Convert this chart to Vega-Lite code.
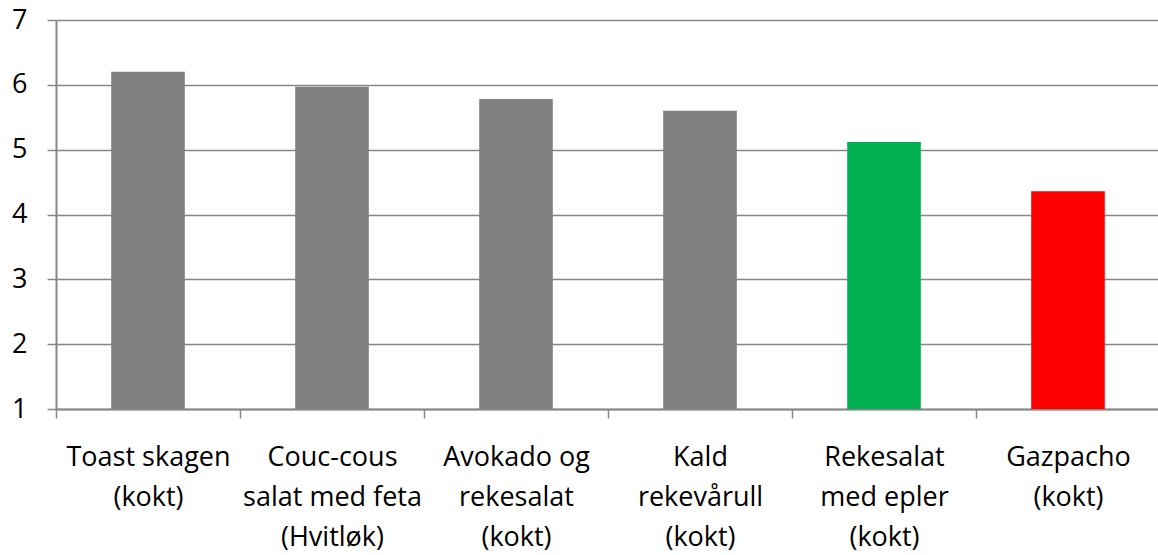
{
  "$schema": "https://vega.github.io/schema/vega-lite/v6.json",
  "autosize": "none",
  "width": 1104,
  "height": 389,
  "padding": {"left": 56, "top": 20, "right": 0, "bottom": 146},
  "background": "white",
  "config": {
    "view": {"stroke": null},
    "font": "Open Sans"
  },
  "data": {
    "values": [
      {"rett": "Toast skagen|(kokt)", "score": 6.2, "farge": "#808080"},
      {"rett": "Couc-cous|salat med feta|(Hvitløk)", "score": 5.97, "farge": "#808080"},
      {"rett": "Avokado og|rekesalat|(kokt)", "score": 5.78, "farge": "#808080"},
      {"rett": "Kald|rekevårull|(kokt)", "score": 5.6, "farge": "#808080"},
      {"rett": "Rekesalat|med epler|(kokt)", "score": 5.12, "farge": "#00B050"},
      {"rett": "Gazpacho|(kokt)", "score": 4.36, "farge": "#FF0000"}
    ]
  },
  "mark": {"type": "bar"},
  "encoding": {
    "x": {
      "field": "rett",
      "type": "nominal",
      "sort": null,
      "scale": {"paddingInner": 0.6, "paddingOuter": 0.3},
      "axis": {
        "title": null,
        "labelAngle": 0,
        "labelExpr": "split(datum.label, '|')",
        "labelFontSize": 27,
        "labelLineHeight": 40,
        "labelColor": "#000000",
        "labelPadding": 26,
        "labelBaseline": "top",
        "ticks": true,
        "tickOffset": -92,
        "labelOffset": 92,
        "tickSize": 9,
        "tickColor": "#888888",
        "tickWidth": 1.5,
        "domainColor": "#888888",
        "domainWidth": 2,
        "grid": false
      }
    },
    "y": {
      "field": "score",
      "type": "quantitative",
      "scale": {"domain": [1, 7], "nice": false, "zero": false},
      "axis": {
        "title": null,
        "values": [1, 2, 3, 4, 5, 6, 7],
        "labelFontSize": 27,
        "labelColor": "#000000",
        "labelPadding": 20,
        "ticks": true,
        "tickSize": 9,
        "tickColor": "#888888",
        "tickWidth": 1.5,
        "domainColor": "#888888",
        "domainWidth": 2,
        "grid": true,
        "gridColor": "#888888",
        "gridWidth": 1.5
      }
    },
    "y2": {"datum": 1},
    "color": {"field": "farge", "type": "nominal", "scale": null, "legend": null}
  }
}
